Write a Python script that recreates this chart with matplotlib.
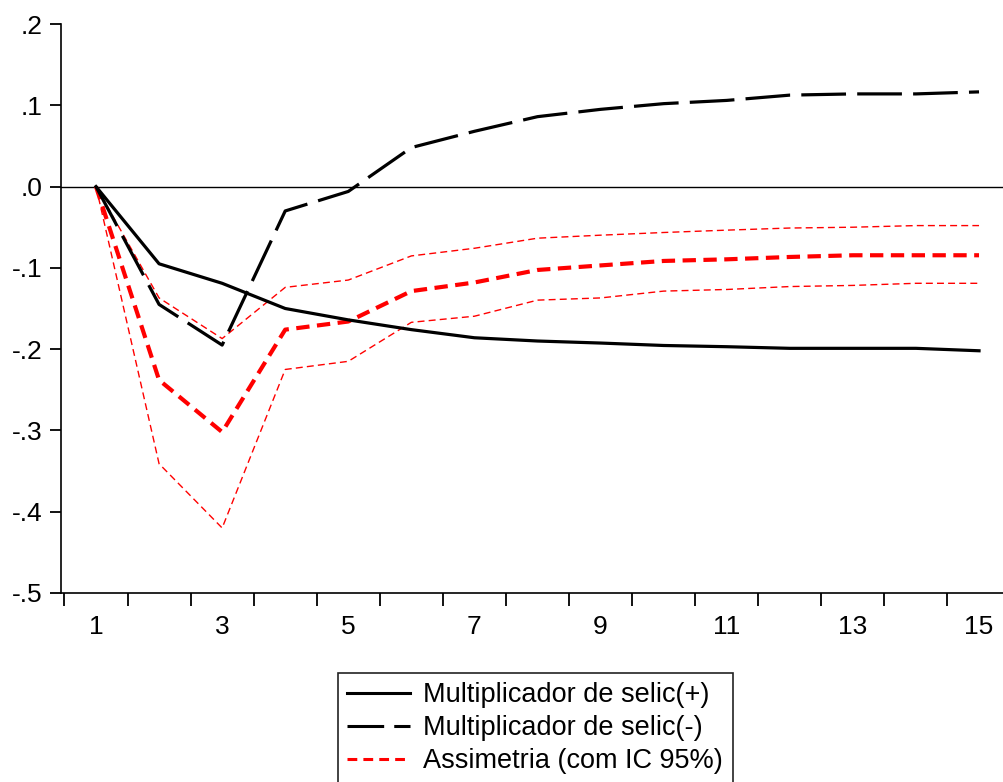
import matplotlib
matplotlib.use("Agg")
import matplotlib.pyplot as plt
from matplotlib.lines import Line2D

plt.rcParams['font.family'] = ['Liberation Sans', 'DejaVu Sans']

periods = list(range(1, 16))
mult_pos = [0.0, -0.095, -0.119, -0.150, -0.164, -0.176, -0.186, -0.190, -0.1925,
            -0.1955, -0.197, -0.199, -0.199, -0.199, -0.202]
mult_neg = [0.0, -0.145, -0.195, -0.030, -0.006, 0.048, 0.068, 0.086, 0.095,
            0.102, 0.106, 0.1125, 0.114, 0.114, 0.1165]
assim = [0.0, -0.238, -0.302, -0.176, -0.166, -0.1286, -0.118, -0.1026, -0.097,
         -0.0915, -0.0895, -0.0866, -0.0845, -0.0845, -0.0845]
assim_up = [0.0, -0.137, -0.187, -0.124, -0.115, -0.0853, -0.0759, -0.0635, -0.0598,
            -0.0565, -0.0536, -0.051, -0.050, -0.048, -0.048]
assim_lo = [0.0, -0.341, -0.420, -0.225, -0.215, -0.167, -0.1595, -0.1397, -0.137,
            -0.1286, -0.1266, -0.123, -0.1216, -0.119, -0.119]

yticks = [0.2, 0.1, 0.0, -0.1, -0.2, -0.3, -0.4, -0.5]
ytick_labels = ['.2', '.1', '.0', '-.1', '-.2', '-.3', '-.4', '-.5']
xtick_labels = ['1', '3', '5', '7', '9', '11', '13', '15']
legend_labels = ['Multiplicador de selic(+)', 'Multiplicador de selic(-)',
                 'Assimetria (com IC 95%)']

fig = plt.figure(figsize=(10.04, 7.82), dpi=100)
ax = fig.add_axes([61/1004, 1-593/782, 1-61/1004, (593-24)/782])

ax.axhline(0, color='black', lw=1.0, zorder=1)

neg_style = (0, (14, 3.5))
red_style = (0, (3.2, 1.8))
ci_style = (0, (5, 3))

ax.plot(periods, assim_up, color='red', lw=1.0, ls=ci_style, zorder=2)
ax.plot(periods, assim_lo, color='red', lw=1.0, ls=ci_style, zorder=2)
ax.plot(periods, assim, color='red', lw=3.0, ls=red_style, zorder=3)
ax.plot(periods, mult_pos, color='black', lw=2.3, zorder=4)
ax.plot(periods, mult_neg, color='black', lw=2.3, ls=neg_style, zorder=4)

ax.set_xlim(0.445, 15.396)
ax.set_ylim(-0.5, 0.2)

for s in ['top', 'right']:
    ax.spines[s].set_visible(False)
for s in ['left', 'bottom']:
    ax.spines[s].set_linewidth(1.2)

ax.set_xticks([1, 3, 5, 7, 9, 11, 13, 15])
ax.set_xticklabels(xtick_labels)
ax.set_xticks([i + 0.5 for i in range(0, 15)], minor=True)
ax.tick_params(axis='x', which='major', length=0, pad=16, labelsize=19)
ax.tick_params(axis='x', which='minor', length=9, width=1.3, direction='out')

ax.set_yticks(yticks)
ax.set_yticklabels(ytick_labels)
ax.tick_params(axis='y', which='major', length=8, width=1.3, direction='out',
               pad=5, labelsize=19)

handles = [Line2D([], [], color='black', lw=2.2),
           Line2D([], [], color='black', lw=2.2, ls=(0, (12, 3.3))),
           Line2D([], [], color='red', lw=2.2, ls=(0, (3.2, 2.0)))]
leg = fig.legend(handles, legend_labels, loc='upper left',
                 bbox_to_anchor=(338/1004, 1-673/782), bbox_transform=fig.transFigure,
                 fontsize=19.5, frameon=True, fancybox=False, framealpha=1,
                 edgecolor='#222222', borderaxespad=0, borderpad=0.35,
                 handlelength=2.3, handletextpad=0.5, labelspacing=0.25)
leg.get_frame().set_linewidth(1.2)

fig.savefig('out.png', dpi=100)
